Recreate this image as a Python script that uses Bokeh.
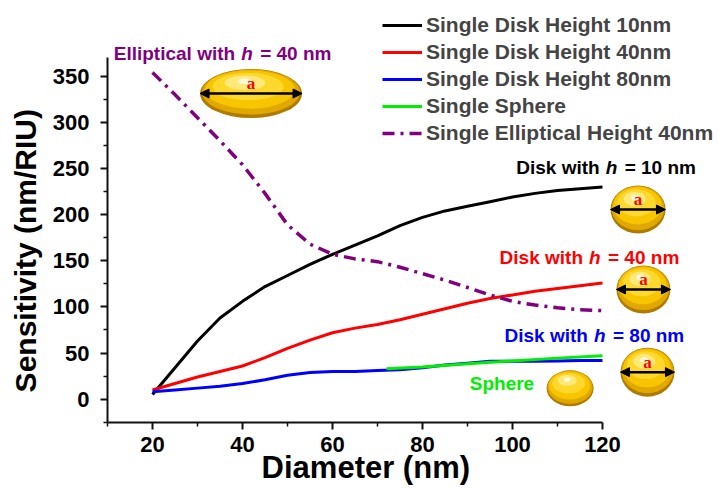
import numpy as np
from bokeh.plotting import figure
from bokeh.models import (ColumnDataSource, Legend, LegendItem, FixedTicker,
                          Arrow, NormalHead, Range1d)
from bokeh.core.properties import value
from bokeh.embed import file_html
from bokeh.resources import INLINE

# diameter (nm) and sensitivity (nm/RIU)
diameter = [20, 25, 30, 35, 40, 45, 50, 55, 60, 65, 70, 75, 80, 85, 90, 95, 100, 105, 110, 115, 120]
disk_h10 = [5, 34, 63, 88, 106, 122, 134, 146, 157, 167, 177, 188, 197, 204, 209, 214, 219, 223, 226, 228, 230]
disk_h40 = [10, 17, 24, 30, 36, 45, 55, 64, 72, 77, 81, 86, 92, 98, 104, 109, 113, 117, 120, 123, 126]
disk_h80 = [8, 10, 12, 14, 17, 21, 26, 29, 30, 30, 31, 32, 34, 37, 39, 41, 41, 41, 41.5, 42, 42]
elliptical_h40 = [354, 330, 305, 280, 254, 223, 189, 168, 157, 152, 149, 143, 136, 129, 121, 113, 106, 102, 99, 97, 96]
sphere_d = [72, 80, 90, 100, 110, 120]
sphere = [33, 35, 38.5, 41.5, 44.5, 47]

x_ticks = [20, 40, 60, 80, 100, 120]
x_minor = [10, 30, 50, 70, 90, 110]
y_ticks = [0, 50, 100, 150, 200, 250, 300, 350]
y_minor = [-25, 25, 75, 125, 175, 225, 275, 325]

names = ["Single Disk Height 10nm", "Single Disk Height 40nm", "Single Disk Height 80nm",
         "Single Sphere", "Single Elliptical Height 40nm"]
colors = ["black", "#FF0000", "#0000FF", "#00EE00", "#800080"]

# text notes next to the curves: "<pre> h <post>"
note_x = [39.7, 120.7, 117.0, 118.1]
note_y = [374.0, 250.7, 153.2, 69.3]
note_pre = ["Elliptical with", "Disk with", "Disk with", "Disk with"]
note_post = ["= 40 nm", "= 10 nm", "= 40 nm", "= 80 nm"]
note_colors = ["#800080", "black", "#FF0000", "#0000FF"]

# gold particle pictures (centre in data units, size in px)
icon_x = [41.9, 127.9, 129.1, 130.0, 112.8]
icon_y = [331.2, 205.5, 118.9, 29.3, 11.8]
icon_w = [102, 55, 54, 54, 47]
icon_h = [49, 48, 48, 49, 36]
icon_arrow = [True, True, True, True, False]

PX_X = 4.5     # px per nm on x
PX_Y = 0.923   # px per nm/RIU on y
FONT = "Liberation Sans"

# the frame fills the whole canvas, axes are pinned inside it
p = figure(width=718, height=488, x_range=Range1d(-13.78, 145.78), y_range=Range1d(-96.75, 431.96),
           output_backend="svg", toolbar_location=None,
           min_border_left=0, min_border_right=0, min_border_top=0, min_border_bottom=0)
p.outline_line_color = None
p.xgrid.visible = False
p.ygrid.visible = False

for ax in (p.xaxis[0], p.yaxis[0]):
    ax.axis_line_width = 2
    ax.axis_line_color = "#111111"
    ax.major_tick_line_width = 2
    ax.minor_tick_line_width = 1.5
    ax.major_tick_line_color = "#111111"
    ax.minor_tick_line_color = "#111111"
    ax.major_tick_in = 0
    ax.major_tick_out = 7
    ax.minor_tick_in = 0
    ax.minor_tick_out = 4
    ax.major_label_text_font = FONT
    ax.major_label_text_font_style = "bold"
    ax.major_label_text_font_size = "22px"
    ax.major_label_text_color = "black"
p.xaxis.major_label_standoff = 8
p.yaxis.major_label_standoff = 11
p.xaxis.fixed_location = -25
p.yaxis.fixed_location = 10
p.xaxis.bounds = (10, 120)
p.yaxis.bounds = (-25, 370)
p.xaxis.ticker = FixedTicker(ticks=x_ticks, minor_ticks=x_minor)
p.yaxis.ticker = FixedTicker(ticks=y_ticks, minor_ticks=y_minor)

renderers = []
for ys, c in zip([disk_h10, disk_h40, disk_h80], colors[:3]):
    renderers.append(p.line(diameter, ys, line_color=c, line_width=3, line_join="round"))
renderers.append(p.line(sphere_d, sphere, line_color=colors[3], line_width=3))
renderers.append(p.line(diameter, elliptical_h40, line_color=colors[4], line_width=3.5,
                        line_dash="12 6 3 6"))

legend = Legend(items=[LegendItem(label=n, renderers=[r]) for n, r in zip(names, renderers)],
                location=(382, 343), border_line_color=None, background_fill_alpha=0,
                padding=0, margin=0, spacing=3, glyph_width=40, glyph_height=20,
                label_height=20, label_standoff=4, label_text_font=FONT,
                label_text_font_style="bold", label_text_font_size="21px")
p.add_layout(legend)

# notes with italic h
notes = ColumnDataSource(dict(x=note_x, y=note_y, pre=note_pre, post=note_post,
                              h=["h"] * len(note_x), c=note_colors))
common = dict(source=notes, text_color="c", text_font=value(FONT), text_font_size="19px",
              text_baseline="alphabetic")
p.text(x="x", y="y", text="pre", text_align="right", x_offset=-6, text_font_style="bold", **common)
p.text(x="x", y="y", text="h", text_align="left", text_font_style="bold italic", **common)
p.text(x="x", y="y", text="post", text_align="left", x_offset=19, text_font_style="bold", **common)
p.text(x=[90.5], y=[17.0], text=["Sphere"], text_color="#00EE00", text_font=value(FONT),
       text_font_size="19px", text_font_style="bold", text_baseline="alphabetic")

# gold particles: stacked ellipses for shading
ix = np.array(icon_x)
iy = np.array(icon_y)
iw = np.array(icon_w, dtype=float)
ih = np.array(icon_h, dtype=float)
layers = [  # (w scale, h scale, dx frac, dy frac, colour)
    (1.00, 1.00, 0.00, 0.00, "#B07C00"),
    (0.96, 0.92, 0.00, 0.03, "#E0A800"),
    (0.88, 0.78, -0.01, 0.08, "#F7C600"),
    (0.70, 0.56, -0.03, 0.14, "#FFD82E"),
    (0.40, 0.30, -0.06, 0.22, "#FFE97A"),
    (0.14, 0.12, -0.06, 0.25, "#FFF8D8"),
]
for sw, sh, dx, dy, col in layers:
    p.ellipse(x=ix + dx * iw / PX_X, y=iy + dy * ih / PX_Y, width=iw * sw, height=ih * sh,
              width_units="screen", height_units="screen", fill_color=col, line_color=None)

arr = np.array(icon_arrow)
arrows = ColumnDataSource(dict(x0=ix[arr] - iw[arr] / 2 / PX_X, x1=ix[arr] + iw[arr] / 2 / PX_X,
                               y=iy[arr]))
p.add_layout(Arrow(source=arrows, x_start="x0", x_end="x1", y_start="y", y_end="y",
                   line_width=2.5, line_color="black",
                   start=NormalHead(size=9, fill_color="black", line_color="black"),
                   end=NormalHead(size=9, fill_color="black", line_color="black")))
p.text(x=ix[arr], y=iy[arr] + 10 / PX_Y, text=["a"] * int(arr.sum()), text_color="#FF0000",
       text_font=value("Liberation Serif"), text_font_style="bold",
       text_font_size="17px", text_align="center", text_baseline="middle")

# axis titles
p.text(x=[67.4], y=[-74.5], text=["Diameter (nm)"], text_align="center",
       text_baseline="alphabetic", text_font=value(FONT), text_font_style="bold",
       text_font_size="31px", text_color="black")
p.text(x=[-8.2], y=[160.9], text=["Sensitivity (nm/RIU)"], angle=np.pi / 2,
       text_align="center", text_baseline="middle", text_font=value(FONT),
       text_font_style="bold", text_font_size="30px", text_color="black")

open("out.html", "w").write(file_html(p, INLINE))
